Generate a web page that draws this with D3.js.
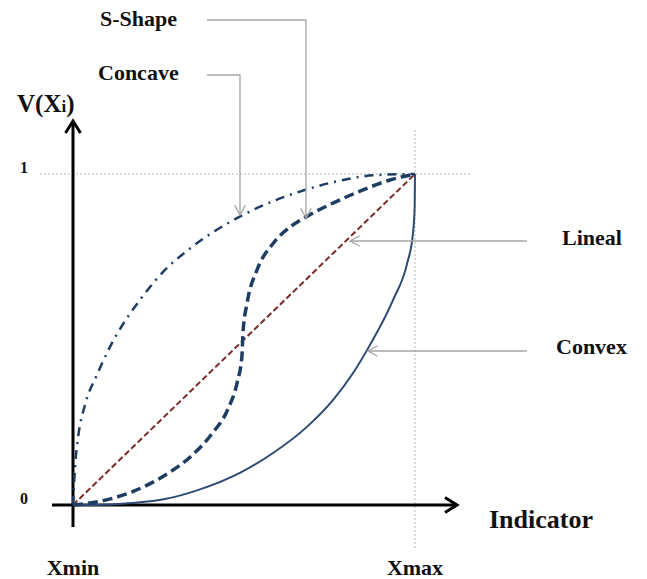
<!DOCTYPE html>
<html>
<head>
<meta charset="utf-8">
<script src="https://cdn.jsdelivr.net/npm/d3@7"></script>
<style>
  body { margin: 0; background: #fff; }
  text { font-family: "Liberation Serif", "Times New Roman", serif; font-weight: bold; fill: #111; }
</style>
</head>
<body>
<svg id="chart" width="647" height="579"></svg>
<script>
// points: t = share of the indicator range, v = value V(Xi)
const concaveT = [0, 0.006, 0.015, 0.035, 0.070, 0.102, 0.211, 0.269, 0.336, 0.415, 0.482, 0.585, 0.673, 0.781, 0.877, 1];
const concaveV = [0, 0.115, 0.205, 0.302, 0.393, 0.465, 0.640, 0.710, 0.770, 0.828, 0.868, 0.918, 0.950, 0.980, 0.996, 1];

const sShapeT = [0, 0.073, 0.173, 0.269, 0.348, 0.406, 0.453, 0.480, 0.494, 0.497, 0.509, 0.538, 0.585, 0.635, 0.684, 0.760, 0.848, 0.927, 1];
const sShapeV = [0, 0.01, 0.04, 0.09, 0.15, 0.215, 0.29, 0.37, 0.45, 0.52, 0.61, 0.71, 0.79, 0.84, 0.872, 0.912, 0.952, 0.982, 1];

const linealT = [0, 1];
const linealV = [0, 1];

const convexT = [0, 0.07, 0.173, 0.269, 0.365, 0.488, 0.585, 0.684, 0.760, 0.819, 0.868, 0.936, 0.977, 0.994, 0.999, 1];
const convexV = [0, 0, 0.006, 0.018, 0.045, 0.097, 0.157, 0.236, 0.317, 0.399, 0.483, 0.62, 0.73, 0.82, 0.9, 1];

const tickLabels = ["0", "1"];
const xLabels = ["Xmin", "Xmax"];

const svg = d3.select("#chart");

const xScale = d3.scaleLinear().domain([0, 1]).range([73, 415]);
const yScale = d3.scaleLinear().domain([0, 1]).range([505, 174]);

function zipPts(ts, vs) {
  return ts.map((t, i) => [t, vs[i]]);
}

const line = d3.line()
  .x(d => xScale(d[0]))
  .y(d => yScale(d[1]))
  .curve(d3.curveMonotoneX);

// dotted guides at 1 and Xmax
svg.append("line")
  .attr("x1", 40).attr("x2", 470)
  .attr("y1", yScale(1)).attr("y2", yScale(1))
  .attr("stroke", "#b5b5b5").attr("stroke-width", 1).attr("stroke-dasharray", "2,2");
svg.append("line")
  .attr("x1", xScale(1)).attr("x2", xScale(1))
  .attr("y1", 130).attr("y2", 548)
  .attr("stroke", "#b5b5b5").attr("stroke-width", 1).attr("stroke-dasharray", "2,2");

// axes
const y0 = yScale(0), x0 = xScale(0);
svg.append("line")
  .attr("x1", 52).attr("x2", 457)
  .attr("y1", y0).attr("y2", y0)
  .attr("stroke", "#000").attr("stroke-width", 3);
svg.append("path")
  .attr("d", `M${445},${y0 - 7.5} L${457},${y0} L${445},${y0 + 7.5}`)
  .attr("fill", "none").attr("stroke", "#000").attr("stroke-width", 3);

svg.append("line")
  .attr("x1", x0).attr("x2", x0)
  .attr("y1", 527).attr("y2", 121)
  .attr("stroke", "#000").attr("stroke-width", 3);
svg.append("path")
  .attr("d", `M${x0 - 7.5},${133} L${x0},${121} L${x0 + 7.5},${133}`)
  .attr("fill", "none").attr("stroke", "#000").attr("stroke-width", 3);

// curves
svg.append("path")
  .attr("d", line(zipPts(linealT, linealV)))
  .attr("fill", "none").attr("stroke", "#7b2a2a").attr("stroke-width", 2)
  .attr("stroke-dasharray", "6,3");

svg.append("path")
  .attr("d", line(zipPts(convexT, convexV)))
  .attr("fill", "none").attr("stroke", "#2c4a72").attr("stroke-width", 2);

svg.append("path")
  .attr("d", line(zipPts(sShapeT, sShapeV)))
  .attr("fill", "none").attr("stroke", "#1f3d63").attr("stroke-width", 3.5)
  .attr("stroke-dasharray", "10,5");

svg.append("path")
  .attr("d", line(zipPts(concaveT, concaveV)))
  .attr("fill", "none").attr("stroke", "#1f3d63").attr("stroke-width", 2.5)
  .attr("stroke-dasharray", "9,6,2,6");

// annotation arrows
function callout(points) {
  svg.append("path")
    .attr("d", d3.line()(points))
    .attr("fill", "none").attr("stroke", "#a6a6a6").attr("stroke-width", 1.3);
  const [x1, y1] = points[points.length - 2];
  const [x2, y2] = points[points.length - 1];
  const a = Math.atan2(y2 - y1, x2 - x1);
  const len = 11, spread = 0.5;
  const head = [
    [x2 - len * Math.cos(a - spread), y2 - len * Math.sin(a - spread)],
    [x2, y2],
    [x2 - len * Math.cos(a + spread), y2 - len * Math.sin(a + spread)]
  ];
  svg.append("path")
    .attr("d", d3.line()(head))
    .attr("fill", "none").attr("stroke", "#a6a6a6").attr("stroke-width", 1.3);
}

callout([[207, 20], [306, 20], [306, 218]]);
callout([[207, 75], [240, 75], [240, 215]]);
callout([[527, 241], [350, 241]]);
callout([[527, 351], [368, 351]]);

// labels
function addText(x, y, size, text, anchor) {
  return svg.append("text")
    .attr("x", x).attr("y", y)
    .attr("font-size", size)
    .attr("text-anchor", anchor || "start")
    .text(text);
}

addText(100, 26, 22, "S-Shape");
addText(98, 80, 22, "Concave");
addText(562, 245, 22, "Lineal");
addText(556, 354, 22, "Convex");
addText(489, 528, 26, "Indicator");

const vLabel = addText(17, 112, 25, "V(X");
vLabel.append("tspan").attr("font-size", 17).text("i");
vLabel.append("tspan").attr("font-size", 25).text(")");

tickLabels.forEach((lab) => {
  addText(24, yScale(+lab) - 1, 16, lab, "middle");
});

xLabels.forEach((lab, i) => {
  addText(xScale(i), 575, 22, lab, "middle");
});
</script>
</body>
</html>
